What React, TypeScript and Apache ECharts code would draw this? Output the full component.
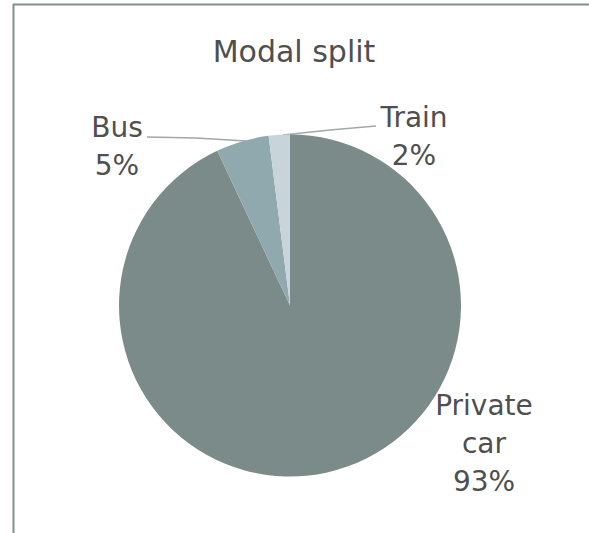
import React, { useEffect, useRef } from "react";
import * as echarts from "echarts";

const categories = ["Private car", "Bus", "Train"];
const shares = [93, 5, 2];
const colors = ["#7b8b89", "#8fa9af", "#c7d4d9"];
const titleText = "Modal split";

// label anchor positions (label centre) and label-line points
const labelPos: [number, number][] = [
  [484, 443],
  [117, 146],
  [414, 136],
];
const labelLines: ([number, number][] | null)[] = [
  null,
  [[147, 137], [196, 138], [246, 141]],
  [[376, 126], [330, 130], [283, 135]],
];

export default function App() {
  const ref = useRef<HTMLDivElement>(null);
  useEffect(() => {
    if (!ref.current) return;
    const chart = echarts.init(ref.current, undefined, { renderer: "svg" });
    chart.setOption({
      animation: false,
      backgroundColor: "#ffffff",
      title: {
        text: titleText,
        left: 289,
        top: 31,
        textAlign: "center",
        textStyle: {
          fontFamily: "DejaVu Sans",
          fontSize: 30,
          fontWeight: "normal",
          color: "#4f4f4f",
        },
      },
      graphic: [
        {
          type: "line",
          shape: { x1: 13, y1: 4.5, x2: 589, y2: 4.5 },
          style: { stroke: "#7f8e8e", lineWidth: 2 },
        },
        {
          type: "line",
          shape: { x1: 13.5, y1: 4, x2: 13.5, y2: 533 },
          style: { stroke: "#7f8e8e", lineWidth: 2 },
        },
      ],
      series: [
        {
          type: "pie",
          center: [290, 305.5],
          radius: 171,
          startAngle: 90,
          clockwise: true,
          data: categories.map((c, i) => ({
            name: c,
            value: shares[i],
            itemStyle: { color: colors[i] },
            labelLine: { show: labelLines[i] !== null },
          })),
          label: {
            show: true,
            position: "outside",
            fontFamily: "DejaVu Sans",
            fontSize: 28,
            lineHeight: 38,
            color: "#4f4f4f",
            align: "center",
            formatter: (p: any) => p.name.replace(" ", "\n") + "\n" + p.value + "%",
          },
          labelLine: {
            show: true,
            lineStyle: { color: "#a0a8a8", width: 1.5 },
          },
          labelLayout: (p: any) => {
            const i = p.dataIndex;
            const res: any = {
              x: labelPos[i][0],
              y: labelPos[i][1],
              align: "center",
              verticalAlign: "middle",
            };
            if (labelLines[i]) res.labelLinePoints = labelLines[i];
            return res;
          },
          emphasis: { disabled: true },
        },
      ],
    });
    return () => chart.dispose();
  }, []);
  return (
    <div
      ref={ref}
      style={{ position: "absolute", left: 0, top: 0, width: 589, height: 533 }}
    />
  );
}
